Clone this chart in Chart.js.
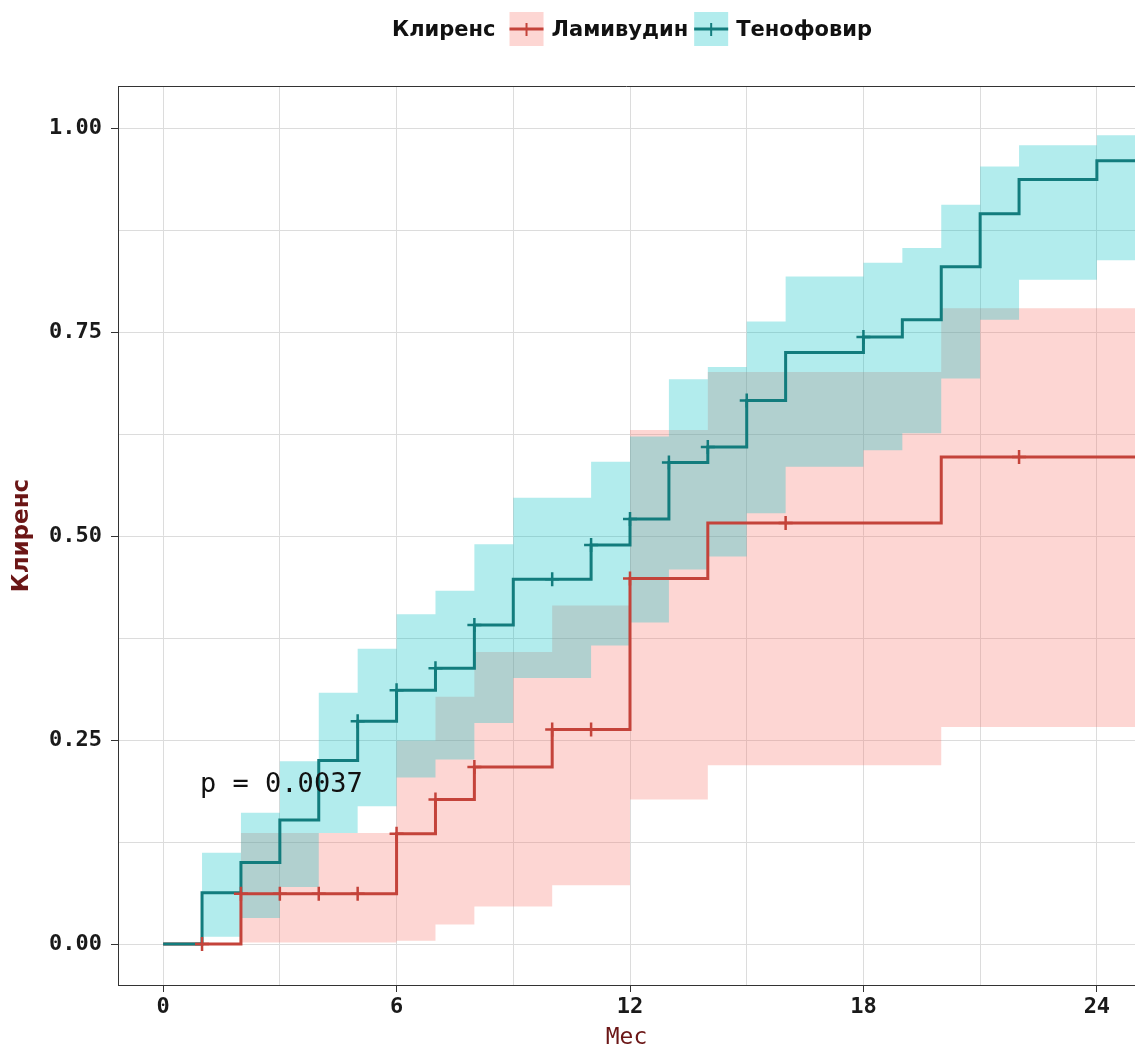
<!DOCTYPE html>
<html>
<head>
<meta charset="utf-8">
<script src="https://cdn.jsdelivr.net/npm/chart.js@4"></script>
<style>
  body { margin: 0; background: #fff; }
  #wrap { width: 1135px; height: 1050px; position: relative; }
</style>
</head>
<body>
<div id="wrap"><canvas id="chart"></canvas></div>
<script>
// --- данные (месяцы / доля клиренса) ---
const tenofovirTime = [0, 1, 2, 3, 4, 5, 6, 7, 8, 9, 11, 12, 13, 14, 15, 16, 18, 19, 20, 21, 22, 24, 25];
const tenofovirSurv = [0, 0.063, 0.100, 0.152, 0.225, 0.273, 0.311, 0.338, 0.391, 0.447, 0.489, 0.521, 0.590, 0.609, 0.666, 0.725, 0.744, 0.765, 0.830, 0.895, 0.937, 0.960, 0.960];
const tenofovirLower = [0, 0.009, 0.032, 0.070, 0.136, 0.169, 0.204, 0.226, 0.271, 0.326, 0.366, 0.394, 0.459, 0.475, 0.528, 0.585, 0.605, 0.626, 0.693, 0.765, 0.814, 0.838, 0.838];
const tenofovirUpper = [0, 0.112, 0.161, 0.224, 0.308, 0.362, 0.404, 0.433, 0.490, 0.547, 0.591, 0.622, 0.692, 0.707, 0.763, 0.818, 0.835, 0.853, 0.906, 0.953, 0.979, 0.991, 0.991];
const tenofovirCensorTime = [5, 6, 7, 8, 10, 11, 12, 13, 14, 15, 18];
const tenofovirCensorSurv = [0.273, 0.311, 0.338, 0.391, 0.447, 0.489, 0.521, 0.590, 0.609, 0.666, 0.744];

const lamivudinTime = [0, 2, 6, 7, 8, 10, 12, 14, 20, 25];
const lamivudinSurv = [0, 0.0615, 0.135, 0.177, 0.217, 0.263, 0.448, 0.516, 0.597, 0.597];
const lamivudinLower = [0, 0.002, 0.004, 0.024, 0.046, 0.072, 0.177, 0.219, 0.266, 0.266];
const lamivudinUpper = [0, 0.136, 0.249, 0.303, 0.358, 0.415, 0.630, 0.701, 0.779, 0.779];
const lamivudinCensorTime = [1, 2, 3, 4, 5, 6, 7, 8, 10, 11, 12, 16, 22];
const lamivudinCensorSurv = [0, 0.0615, 0.0615, 0.0615, 0.0615, 0.135, 0.177, 0.217, 0.263, 0.263, 0.448, 0.516, 0.597];

const groupNames = ["Ламивудин", "Тенофовир"];
const legendTitle = "Клиренс";
const pValueText = "p = 0.0037";

const RED_LINE = "#c4433a";
const TEAL_LINE = "#127c7d";
const RED_FILL = "rgba(248,118,109,0.3)";
const TEAL_FILL = "rgba(0,191,196,0.3)";
const AXIS_TITLE = "#6b1616";

function pts(xs, ys) {
  return xs.map((x, i) => ({ x: x, y: ys[i] }));
}

function stepLine(label, xs, ys, color) {
  return {
    label, data: pts(xs, ys), stepped: "before",
    borderColor: color, borderWidth: 3, pointRadius: 0, fill: false,
  };
}

function band(xs, ys, color, fill) {
  return {
    data: pts(xs, ys), stepped: "before", borderWidth: 0,
    borderColor: "transparent", backgroundColor: color,
    pointRadius: 0, fill: fill,
  };
}

function censor(xs, ys, color) {
  return {
    data: pts(xs, ys), showLine: false, pointStyle: "cross",
    pointRadius: 7, pointBorderWidth: 2.5, borderColor: color,
    pointBorderColor: color, backgroundColor: color,
  };
}

// легенда и p-значение
const extras = {
  id: "extras",
  afterDraw(chart) {
    const ctx = chart.ctx;
    const a = chart.chartArea;
    const xs = chart.scales.x, ys = chart.scales.y;

    // верхняя рамка панели
    ctx.save();
    ctx.strokeStyle = "#333";
    ctx.lineWidth = 1;
    ctx.beginPath();
    ctx.moveTo(a.left, a.top + 0.5);
    ctx.lineTo(a.right, a.top + 0.5);
    ctx.stroke();

    // p-value
    ctx.fillStyle = "#111";
    ctx.font = "27px 'DejaVu Sans Mono'";
    ctx.textAlign = "left";
    ctx.textBaseline = "middle";
    ctx.fillText(pValueText, xs.getPixelForValue(0.95), ys.getPixelForValue(0.195));

    // легенда
    ctx.font = "bold 21px 'DejaVu Sans'";
    const box = 34, cy = 29;
    const items = [
      { text: groupNames[0], fill: RED_FILL, line: RED_LINE },
      { text: groupNames[1], fill: TEAL_FILL, line: TEAL_LINE },
    ];
    const titleW = ctx.measureText(legendTitle).width;
    let total = titleW + 14;
    items.forEach((it, i) => {
      it.w = ctx.measureText(it.text).width;
      total += box + 8 + it.w + (i < items.length - 1 ? 6 : 0);
    });
    let x = 632 - total / 2;
    ctx.fillStyle = "#111";
    ctx.textBaseline = "middle";
    ctx.fillText(legendTitle, x, cy + 2);
    x += titleW + 14;
    items.forEach((it) => {
      ctx.fillStyle = it.fill;
      ctx.fillRect(x, cy - box / 2, box, box);
      ctx.strokeStyle = it.line;
      ctx.lineWidth = 3;
      ctx.beginPath();
      ctx.moveTo(x, cy);
      ctx.lineTo(x + box, cy);
      ctx.stroke();
      ctx.lineWidth = 2;
      ctx.beginPath();
      ctx.moveTo(x + box / 2, cy - 6);
      ctx.lineTo(x + box / 2, cy + 7);
      ctx.stroke();
      x += box + 8;
      ctx.fillStyle = "#111";
      ctx.fillText(it.text, x, cy + 2);
      x += it.w + 6;
    });
    ctx.restore();
  },
};

function isMajor(v, step) {
  return Math.abs(v / step - Math.round(v / step)) < 1e-9;
}

new Chart(document.getElementById("chart"), {
  type: "line",
  data: {
    datasets: [
      censor(tenofovirCensorTime, tenofovirCensorSurv, TEAL_LINE),
      censor(lamivudinCensorTime, lamivudinCensorSurv, RED_LINE),
      stepLine(groupNames[1], tenofovirTime, tenofovirSurv, TEAL_LINE),
      stepLine(groupNames[0], lamivudinTime, lamivudinSurv, RED_LINE),
      band(tenofovirTime, tenofovirUpper, TEAL_FILL, "+1"),
      band(tenofovirTime, tenofovirLower, TEAL_FILL, false),
      band(lamivudinTime, lamivudinUpper, RED_FILL, "+1"),
      band(lamivudinTime, lamivudinLower, RED_FILL, false),
    ],
  },
  options: {
    responsive: true,
    maintainAspectRatio: false,
    animation: false,
    devicePixelRatio: 1,
    layout: { autoPadding: false, padding: { top: 86, right: 0, left: 0, bottom: 0 } },
    plugins: { legend: { display: false }, tooltip: { enabled: false } },
    scales: {
      x: {
        type: "linear",
        min: -1.16,
        max: 24.98,
        afterFit: (s) => { s.height = 65; s.paddingLeft = 0; s.paddingRight = 0; },
        ticks: {
          stepSize: 3, includeBounds: false, autoSkip: false, maxRotation: 0,
          padding: 2, color: "#1a1a1a",
          font: { family: "'DejaVu Sans Mono'", size: 22, weight: "bold" },
          callback: (v) => (isMajor(v, 6) ? v : ""),
        },
        grid: {
          color: "#dcdcdc", lineWidth: 1, tickLength: 7,
          tickColor: (c) => (c.tick && isMajor(c.tick.value, 6) ? "#333" : "rgba(0,0,0,0)"),
        },
        border: { display: true, color: "#333", width: 1 },
        title: {
          display: true, text: "Мес", color: AXIS_TITLE,
          font: { family: "'DejaVu Sans Mono'", size: 23, lineHeight: 1 },
          padding: { top: 0, bottom: 0 },
        },
      },
      y: {
        type: "linear",
        min: -0.0502,
        max: 1.0515,
        afterFit: (s) => { s.width = 118; s.paddingTop = 0; s.paddingBottom = 0; },
        ticks: {
          stepSize: 0.125, includeBounds: false, autoSkip: false,
          padding: 9, color: "#1a1a1a",
          font: { family: "'DejaVu Sans Mono'", size: 22, weight: "bold" },
          callback: (v) => (isMajor(v, 0.25) ? v.toFixed(2) : ""),
        },
        grid: {
          color: "#dcdcdc", lineWidth: 1, tickLength: 7,
          tickColor: (c) => (c.tick && isMajor(c.tick.value, 0.25) ? "#333" : "rgba(0,0,0,0)"),
        },
        border: { display: true, color: "#333", width: 1 },
        title: {
          display: true, text: "Клиренс", color: AXIS_TITLE,
          font: { family: "'DejaVu Sans'", size: 23, weight: "bold" },
          padding: { top: 8, bottom: 0 },
        },
      },
    },
  },
  plugins: [extras],
});
</script>
</body>
</html>
